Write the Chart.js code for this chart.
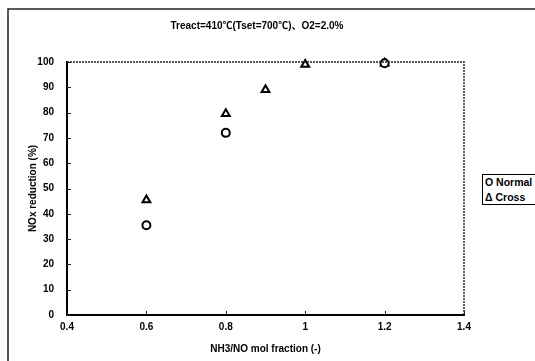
<!DOCTYPE html>
<html>
<head>
<meta charset="utf-8">
<script src="https://cdn.jsdelivr.net/npm/chart.js@4/dist/chart.umd.min.js"></script>
<style>
  html, body { margin: 0; padding: 0; background: #fff; overflow: hidden; }
  #wrap { position: relative; width: 535px; height: 361px; }
  #legend { position: absolute; left: 482px; top: 174px; width: 70px; border: 1px solid #000;
    font: bold 10.5px "Liberation Sans", Arial, sans-serif; color: #000; line-height: 14.5px; padding: 0 0 0 2px; background:#fff; }
</style>
</head>
<body>
<div id="wrap">
  <canvas id="c" width="535" height="361"></canvas>
  <div id="legend"><div>O Normal</div><div>Δ Cross</div></div>
</div>
<script>
const titleText = 'Treact=410℃(Tset=700℃)、O2=2.0%';
const xTitle = 'NH3/NO mol fraction (-)';
const yTitle = 'NOx reduction (%)';
const normalX = [0.6, 0.8, 1.2];
const normalY = [35.5, 72, 99.5];
const crossX = [0.6, 0.8, 0.9, 1.0, 1.2];
const crossY = [45.5, 79.5, 89, 99, 99.5];
const xTickValues = [0.4, 0.6, 0.8, 1.0, 1.2, 1.4];
const xTickLabels = ['0.4', '0.6', '0.8', '1', '1.2', '1.4'];
const yTickValues = [0, 10, 20, 30, 40, 50, 60, 70, 80, 90, 100];
const yTickLabels = ['0', '10', '20', '30', '40', '50', '60', '70', '80', '90', '100'];

const FONT = '"Liberation Sans", Arial, "Noto Sans CJK JP", sans-serif';

const framePlugin = {
  id: 'frame',
  beforeDraw(chart) {
    const ctx = chart.ctx;
    ctx.save();
    ctx.strokeStyle = '#222';
    ctx.lineWidth = 1.5;
    ctx.beginPath();
    ctx.moveTo(8, 361); ctx.lineTo(8, 9); ctx.lineTo(535, 9);
    ctx.stroke();
    ctx.restore();
  },
  afterDraw(chart) {
    const ctx = chart.ctx;
    const a = chart.chartArea;
    const xs = chart.scales.x, ys = chart.scales.y;
    ctx.save();
    ctx.strokeStyle = '#222';
    ctx.lineWidth = 1.5;
    ctx.setLineDash([2, 1]);
    ctx.beginPath();
    ctx.moveTo(a.left, a.top); ctx.lineTo(a.right, a.top); ctx.lineTo(a.right, a.bottom);
    ctx.stroke();
    ctx.setLineDash([]);
    ctx.lineWidth = 1;
    ctx.beginPath();
    yTickValues.forEach(v => { const y = Math.round(ys.getPixelForValue(v)) + 0.5; ctx.moveTo(a.left, y); ctx.lineTo(a.left + 4, y); });
    xTickValues.forEach(v => { const x = Math.round(xs.getPixelForValue(v)) + 0.5; ctx.moveTo(x, a.bottom); ctx.lineTo(x, a.bottom - 4); });
    ctx.stroke();
    ctx.restore();
  }
};

new Chart(document.getElementById('c'), {
  type: 'scatter',
  data: {
    datasets: [
      { label: 'Normal', data: normalX.map((x, i) => ({ x, y: normalY[i] })), pointStyle: 'circle', pointRadius: 4, pointBorderWidth: 2, borderColor: '#000', backgroundColor: '#fff', clip: false },
      { label: 'Cross', data: crossX.map((x, i) => ({ x, y: crossY[i] })), pointStyle: 'triangle', pointRadius: 4.5, pointBorderWidth: 2, borderColor: '#000', backgroundColor: '#fff', clip: false }
    ]
  },
  options: {
    responsive: false,
    animation: false,
    layout: { padding: { left: 9, right: 30, top: 10, bottom: 0 } },
    plugins: {
      legend: { display: false },
      tooltip: { enabled: false },
      title: { display: true, text: titleText, color: '#000', font: { family: FONT, size: 10, weight: 'bold' }, padding: { top: 10, bottom: 30 } }
    },
    scales: {
      x: {
        type: 'linear', min: 0.4, max: 1.4,
        afterBuildTicks: s => { s.ticks = xTickValues.map(v => ({ value: v })); },
        afterFit: s => { s.height = 46; },
        ticks: { callback: (v, i) => xTickLabels[i], color: '#000', font: { family: FONT, size: 10, weight: 'bold' }, padding: 6, maxRotation: 0 },
        grid: { drawOnChartArea: false, drawTicks: false },
        border: { color: '#000', width: 2 },
        title: { display: true, text: xTitle, color: '#000', font: { family: FONT, size: 10, weight: 'bold' }, padding: { top: 0, bottom: 6 } }
      },
      y: {
        type: 'linear', min: 0, max: 100,
        afterBuildTicks: s => { s.ticks = yTickValues.map(v => ({ value: v })); },
        afterFit: s => { s.width = 58; },
        ticks: { callback: (v, i) => yTickLabels[i], color: '#000', font: { family: FONT, size: 10, weight: 'bold' }, padding: 13 },
        grid: { drawOnChartArea: false, drawTicks: false },
        border: { color: '#000', width: 2 },
        title: { display: true, text: yTitle, color: '#000', font: { family: FONT, size: 10, weight: 'bold' }, padding: { top: 18, bottom: 0 } }
      },
      y2: {
        position: 'right', display: true,
        afterFit: s => { s.width = 41; },
        ticks: { display: false },
        grid: { display: false, drawTicks: false },
        border: { display: false }
      }
    }
  },
  plugins: [framePlugin]
});
</script>
</body>
</html>
